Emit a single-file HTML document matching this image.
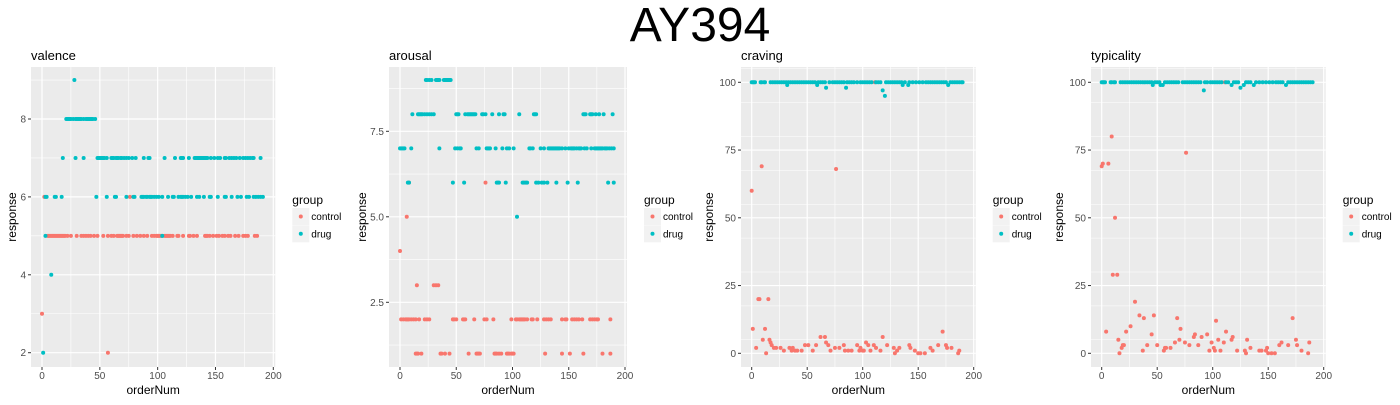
<!DOCTYPE html>
<html><head><meta charset="utf-8"><style>
body{margin:0;background:#fff;width:1400px;height:400px;overflow:hidden;font-family:"Liberation Sans",Arial,sans-serif}
</style></head><body>
<svg id="chart" width="1400" height="400" xmlns="http://www.w3.org/2000/svg" font-family="Liberation Sans, Arial, sans-serif">
<text x="700" y="41" font-size="48" text-anchor="middle" fill="#000">AY394</text>
</svg>
<script>
// ---- data ----
const xTicks = [0,50,100,150,200];
const valenceTicks = [2,4,6,8];
const arousalTicks = [2.5,5.0,7.5];
const pctTicks = [0,25,50,75,100];
const legendLabels = ['control','drug'];

const valenceControl = [[0,3],[57,2],[2,6],[76,6],[5,5],[6,5],[7,5],[8,5],[9,5],[10,5],[11,5],[12,5],[13,5],[14,5],[15,5],[16,5],[17,5],[18,5],[19,5],[20,5],[22,5],[25,5],[30,5],[34,5],[36,5],[38,5],[40,5],[42,5],[45,5],[48,5],[53,5],[57,5],[60,5],[62,5],[65,5],[66,5],[67,5],[68,5],[69,5],[70,5],[73,5],[75,5],[79,5],[82,5],[85,5],[88,5],[91,5],[95,5],[97,5],[99,5],[100,5],[101,5],[102,5],[103,5],[104,5],[106,5],[107,5],[108,5],[109,5],[110,5],[111,5],[113,5],[117,5],[118,5],[122,5],[127,5],[128,5],[131,5],[134,5],[141,5],[142,5],[143,5],[145,5],[148,5],[151,5],[153,5],[156,5],[158,5],[161,5],[163,5],[167,5],[170,5],[174,5],[176,5],[178,5],[184,5],[186,5]];
const valenceDrug = [[1,2],[3,6],[3,5],[4,6],[8,4],[11,6],[12,6],[17,6],[18,7],[21,8],[22,8],[23,8],[24,8],[25,8],[27,8],[29,8],[30,8],[31,8],[32,8],[33,8],[34,8],[36,8],[38,8],[39,8],[40,8],[41,8],[42,8],[43,8],[44,8],[46,8],[28,9],[29,7],[36,7],[47,6],[48,7],[49,7],[50,7],[51,7],[52,7],[53,7],[54,7],[56,7],[60,7],[61,7],[62,7],[64,7],[65,7],[66,7],[68,7],[69,7],[71,7],[73,7],[75,7],[78,7],[81,7],[88,7],[92,7],[93,7],[106,7],[115,7],[120,7],[121,7],[122,7],[127,7],[132,7],[133,7],[134,7],[135,7],[136,7],[137,7],[138,7],[139,7],[140,7],[141,7],[142,7],[143,7],[146,7],[149,7],[152,7],[154,7],[158,7],[159,7],[162,7],[164,7],[166,7],[168,7],[171,7],[174,7],[176,7],[178,7],[180,7],[182,7],[183,7],[189,7],[56,6],[63,6],[64,6],[73,6],[79,6],[80,6],[86,6],[87,6],[88,6],[90,6],[91,6],[93,6],[94,6],[95,6],[97,6],[99,6],[101,6],[104,6],[109,6],[113,6],[114,6],[118,6],[120,6],[121,6],[122,6],[124,6],[126,6],[129,6],[134,6],[136,6],[140,6],[145,6],[146,6],[152,6],[158,6],[159,6],[164,6],[169,6],[172,6],[177,6],[179,6],[183,6],[185,6],[187,6],[189,6],[191,6],[104,5]];

const arousalControl = [[0,4],[6,5],[8,6],[76,6],[111,6],[15,3],[30,3],[32,3],[34,3],[1,2],[3,2],[5,2],[6,2],[7,2],[8,2],[10,2],[12,2],[14,2],[17,2],[22,2],[24,2],[26,2],[47,2],[48,2],[50,2],[56,2],[57,2],[58,2],[66,2],[75,2],[77,2],[83,2],[99,2],[103,2],[104,2],[106,2],[107,2],[108,2],[109,2],[110,2],[111,2],[113,2],[117,2],[118,2],[122,2],[128,2],[130,2],[132,2],[134,2],[144,2],[147,2],[148,2],[153,2],[155,2],[157,2],[159,2],[162,2],[169,2],[171,2],[173,2],[175,2],[176,2],[187,2],[14,1],[15,1],[16,1],[19,1],[36,1],[37,1],[40,1],[44,1],[61,1],[68,1],[69,1],[70,1],[71,1],[84,1],[85,1],[86,1],[88,1],[90,1],[95,1],[96,1],[97,1],[99,1],[100,1],[101,1],[129,1],[144,1],[151,1],[163,1],[180,1],[187,1]];
const arousalDrug = [[23,9],[24,9],[26,9],[28,9],[32,9],[33,9],[34,9],[35,9],[39,9],[40,9],[41,9],[42,9],[43,9],[44,9],[45,9],[11,8],[16,8],[17,8],[18,8],[19,8],[20,8],[22,8],[24,8],[26,8],[28,8],[30,8],[50,8],[51,8],[52,8],[58,8],[60,8],[61,8],[62,8],[63,8],[64,8],[65,8],[66,8],[67,8],[73,8],[74,8],[76,8],[82,8],[88,8],[92,8],[93,8],[106,8],[119,8],[120,8],[121,8],[163,8],[164,8],[165,8],[169,8],[170,8],[171,8],[174,8],[177,8],[181,8],[189,8],[0,7],[1,7],[2,7],[3,7],[4,7],[10,7],[35,7],[49,7],[51,7],[53,7],[54,7],[68,7],[70,7],[77,7],[78,7],[79,7],[80,7],[85,7],[91,7],[95,7],[97,7],[101,7],[115,7],[116,7],[118,7],[125,7],[128,7],[132,7],[133,7],[134,7],[135,7],[136,7],[137,7],[138,7],[139,7],[140,7],[141,7],[142,7],[144,7],[147,7],[150,7],[152,7],[153,7],[154,7],[155,7],[157,7],[159,7],[160,7],[161,7],[164,7],[166,7],[170,7],[173,7],[174,7],[175,7],[176,7],[177,7],[178,7],[179,7],[180,7],[182,7],[183,7],[184,7],[186,7],[188,7],[190,7],[7,6],[8,6],[47,6],[57,6],[86,6],[87,6],[88,6],[94,6],[109,6],[110,6],[112,6],[113,6],[121,6],[123,6],[126,6],[128,6],[131,6],[139,6],[149,6],[158,6],[185,6],[190,6],[104,5]];

const cravingControl = [[0,60],[9,69],[76,68],[6,20],[7,20],[15,20],[1,9],[12,9],[4,2],[10,5],[13,0],[16,5],[17,4],[18,3],[20,2],[22,2],[26,2],[29,1],[34,2],[36,1],[37,2],[39,1],[41,1],[45,1],[48,3],[51,3],[55,1],[58,3],[62,6],[66,6],[67,4],[69,3],[71,1],[75,2],[79,2],[83,3],[84,1],[87,1],[90,1],[95,3],[97,1],[98,2],[100,1],[101,1],[103,4],[105,3],[107,1],[110,3],[112,2],[116,1],[118,6],[122,3],[128,2],[129,0],[131,1],[133,2],[142,3],[143,2],[147,1],[150,0],[152,0],[156,0],[161,2],[163,1],[168,3],[172,8],[175,3],[176,2],[180,2],[186,0],[187,1],[111,100]];
const cravingDrug = [[0,100],[1,100],[2,100],[3,100],[8,100],[9,100],[11,100],[12,100],[17,100],[19,100],[21,100],[23,100],[25,100],[27,100],[29,100],[31,100],[32,99],[33,100],[35,100],[37,100],[39,100],[41,100],[43,100],[45,100],[47,100],[49,100],[51,100],[53,100],[55,100],[57,100],[59,99],[60,100],[62,100],[64,100],[66,100],[67,98],[70,100],[73,100],[75,100],[77,100],[79,100],[81,100],[83,100],[85,98],[86,100],[88,100],[90,100],[92,100],[95,100],[98,100],[100,100],[102,100],[104,100],[106,100],[108,100],[112,100],[114,100],[116,100],[118,97],[120,95],[121,100],[123,100],[125,100],[127,100],[129,100],[131,100],[133,100],[135,100],[136,99],[138,100],[141,99],[142,100],[145,100],[148,100],[151,100],[154,100],[157,100],[159,100],[161,100],[163,100],[165,100],[167,100],[169,100],[171,100],[173,100],[175,100],[177,99],[179,100],[181,100],[183,100],[185,100],[187,100],[189,100],[190,100]];

const typicalityControl = [[0,69],[1,70],[6,70],[9,80],[76,74],[12,50],[10,29],[14,29],[4,8],[15,5],[16,0],[18,2],[19,3],[20,3],[22,8],[26,10],[30,19],[34,14],[37,1],[38,13],[41,3],[45,7],[47,14],[50,3],[56,1],[57,2],[58,2],[62,2],[66,4],[68,13],[70,5],[71,9],[75,4],[79,3],[83,6],[84,7],[87,3],[90,6],[95,7],[97,1],[99,4],[101,2],[102,1],[103,12],[105,5],[107,1],[110,4],[112,8],[117,5],[118,6],[122,1],[129,1],[130,0],[131,5],[134,2],[142,1],[144,1],[148,1],[149,2],[150,0],[153,0],[156,0],[160,3],[162,4],[168,3],[172,13],[175,5],[176,3],[180,1],[186,0],[187,4],[111,100]];
const typicalityDrug = [[0,100],[1,100],[2,100],[3,100],[8,100],[9,100],[11,100],[12,100],[17,100],[19,100],[21,100],[23,100],[25,100],[27,100],[29,100],[31,100],[33,100],[35,100],[37,100],[39,100],[41,100],[43,100],[45,100],[46,99],[48,100],[50,100],[52,100],[53,99],[55,99],[57,100],[59,100],[61,100],[63,100],[65,100],[67,100],[69,100],[73,100],[75,100],[77,100],[79,100],[81,100],[83,100],[85,100],[87,100],[89,100],[92,97],[93,100],[95,100],[98,100],[100,100],[102,100],[104,100],[106,100],[108,100],[112,100],[114,100],[117,99],[119,100],[121,100],[123,100],[125,98],[128,99],[130,100],[132,100],[134,100],[137,99],[139,100],[142,100],[145,100],[148,100],[151,100],[154,100],[157,100],[159,100],[161,100],[163,100],[166,99],[168,100],[170,100],[172,100],[174,100],[176,100],[178,100],[180,100],[182,100],[184,100],[186,100],[188,100],[190,100]];

const panels = [
  {title:'valence', left:31, x0:42, x200:273.3, yA:2, pA:352.7, yB:8, pB:119, ticks:valenceTicks, minorStep:1, ymin:1, ymax:10, ctrl:valenceControl, drug:valenceDrug, fmt:v=>String(v)},
  {title:'arousal', left:389, x0:400, x200:625, yA:2.5, pA:302.3, yB:7.5, pB:131.3, ticks:arousalTicks, minorStep:1.25, ymin:0, ymax:10, ctrl:arousalControl, drug:arousalDrug, fmt:v=>v.toFixed(1)},
  {title:'craving', left:741, x0:751.7, x200:973.7, yA:0, pA:353.3, yB:100, pB:82.3, ticks:pctTicks, minorStep:12.5, ymin:-20, ymax:120, ctrl:cravingControl, drug:cravingDrug, fmt:v=>String(v)},
  {title:'typicality', left:1091, x0:1101.7, x200:1323.7, yA:0, pA:353.3, yB:100, pB:82.3, ticks:pctTicks, minorStep:12.5, ymin:-20, ymax:120, ctrl:typicalityControl, drug:typicalityDrug, fmt:v=>String(v)}
];
const TOP=67, BOT=367;
const COL_C='#F8766D', COL_D='#00BFC4';
const svg=document.getElementById('chart');
const NS='http://www.w3.org/2000/svg';
function mk(tag,attrs,parent){const e=document.createElementNS(NS,tag);for(const k in attrs)e.setAttribute(k,attrs[k]);(parent||svg).appendChild(e);return e;}

panels.forEach((p,pi)=>{
  const sx=v=>p.x0+(p.x200-p.x0)*v/200;
  const sy=v=>p.pA+(p.pB-p.pA)*(v-p.yA)/(p.yB-p.yA);
  const right=p.x200+2;
  const g=mk('g',{});
  
  
  const bg=mk('rect',{x:p.left,y:TOP,width:right-p.left,height:BOT-TOP,fill:'#EBEBEB'},g);
  
  
  // minor grid
  for(let v=p.ymin;v<=p.ymax;v+=p.minorStep){const y=sy(v);if(y>TOP&&y<BOT&&!p.ticks.some(t=>Math.abs(t-v)<1e-9)){const l=mk('line',{x1:p.left,x2:right,y1:y,y2:y,stroke:'#fff','stroke-width':0.6},g);}}
  [25,75,125,175].forEach(v=>{const l=mk('line',{x1:sx(v),x2:sx(v),y1:TOP,y2:BOT,stroke:'#fff','stroke-width':0.6},g);});
  // major grid + ticks
  p.ticks.forEach(v=>{const y=sy(v);
    const l=mk('line',{x1:p.left,x2:right,y1:y,y2:y,stroke:'#fff','stroke-width':1.2},g);
    mk('line',{x1:p.left-3,x2:p.left,y1:y,y2:y,stroke:'#333','stroke-width':1},g);
    const t=mk('text',{x:p.left-5,y:y+3.5,'font-size':10,'text-anchor':'end',fill:'#4D4D4D'},g);t.textContent=p.fmt(v);
    });
  xTicks.forEach(v=>{const x=sx(v);
    const l=mk('line',{x1:x,x2:x,y1:TOP,y2:BOT,stroke:'#fff','stroke-width':1.2},g);
    mk('line',{x1:x,x2:x,y1:BOT,y2:BOT+3,stroke:'#333','stroke-width':1},g);
    const t=mk('text',{x:x,y:BOT+12,'font-size':10,'text-anchor':'middle',fill:'#4D4D4D'},g);t.textContent=String(v);
    });
  // points
  [[p.ctrl,COL_C,'control'],[p.drug,COL_D,'drug']].forEach(([arr,c,nm])=>{
    arr.forEach(d=>{const pt=mk('circle',{cx:sx(d[0]),cy:sy(d[1]),r:2,fill:c},g);
      
      });
  });
  // titles
  const tt=mk('text',{x:p.left,y:60,'font-size':13,fill:'#000'},g);tt.textContent=p.title;
  
  const xt=mk('text',{x:(p.left+right)/2,y:394,'font-size':12,'text-anchor':'middle',fill:'#000'},g);xt.textContent='orderNum';
  
  const yx=p.left-(pi<2?17:25)-(pi===0?0:6);
  const yt=mk('text',{x:0,y:0,'font-size':12,'text-anchor':'middle',fill:'#000',transform:`translate(${p.left-(pi===0?15:(pi===1?23:28))},${(TOP+BOT)/2}) rotate(-90)`},g);yt.textContent='response';
  
  // legend
  const lx=right+17;
  const lg=mk('g',{},g);
  
  
  const lt=mk('text',{x:lx,y:204,'font-size':12,fill:'#000'},lg);lt.textContent='group';
  [COL_C,COL_D].forEach((c,i)=>{const y=208+i*17.3;
    const k=mk('rect',{x:lx,y:y,width:17,height:17,fill:'#F2F2F2'},lg);
    
    mk('circle',{cx:lx+8.5,cy:y+8.5,r:2,fill:c},lg);
    const e=mk('text',{x:lx+19,y:y+12,'font-size':10,fill:'#000'},lg);e.textContent=legendLabels[i];
    });
});
</script>
</body></html>
